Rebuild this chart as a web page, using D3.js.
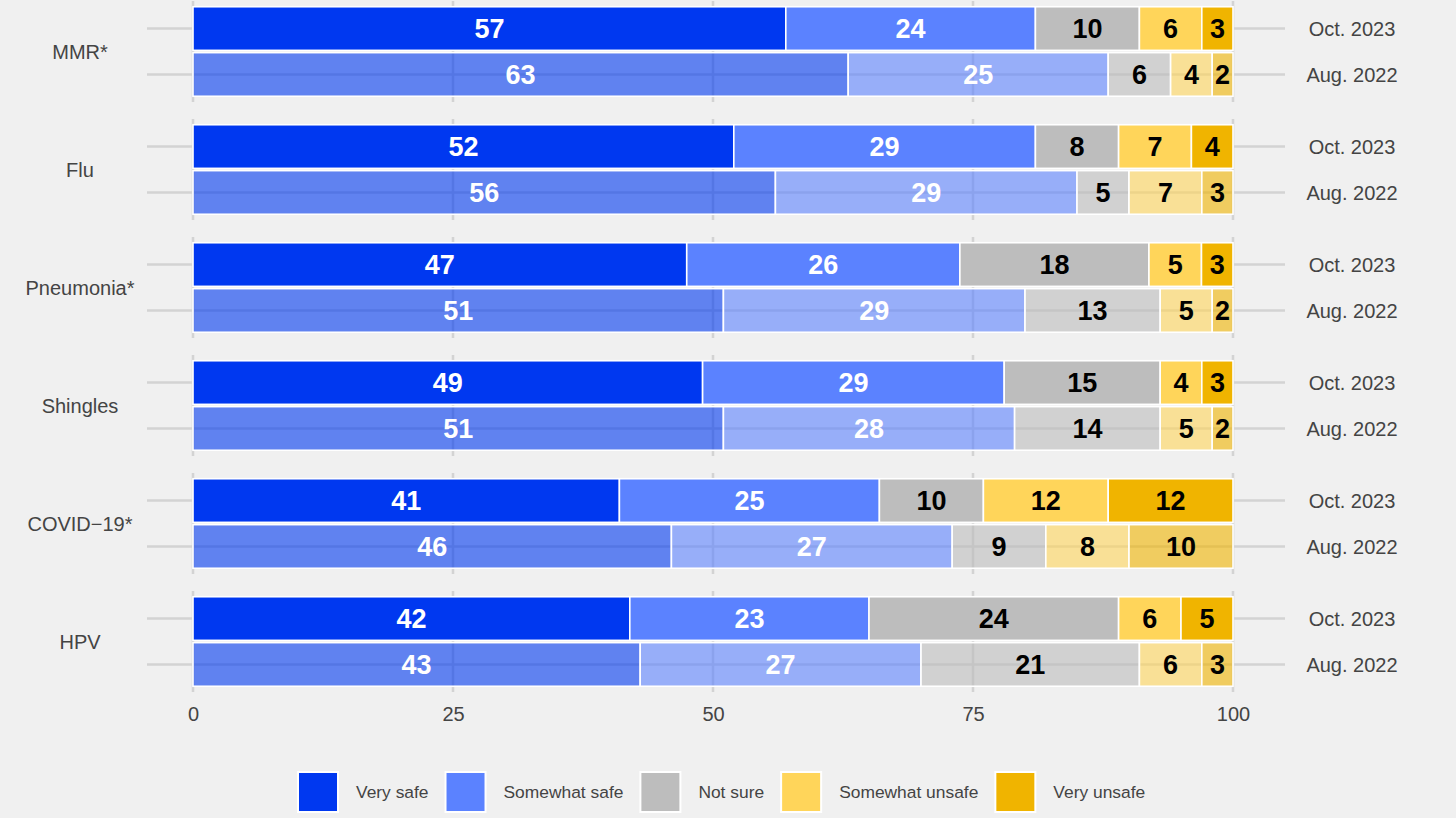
<!DOCTYPE html>
<html><head><meta charset="utf-8">
<script src="https://cdn.jsdelivr.net/npm/d3@7"></script>
<style>html,body{margin:0;padding:0;background:#f0f0f0;} svg{display:block;font-family:"Liberation Sans",Arial,Helvetica,sans-serif;}</style>
</head><body><svg id="c" width="1456" height="818"></svg>
<script>
const vaccines = ["MMR*","Flu","Pneumonia*","Shingles","COVID−19*","HPV"];
const waves = ["Oct. 2023","Aug. 2022"];
const responses = ["Very safe","Somewhat safe","Not sure","Somewhat unsafe","Very unsafe"];
const colors = ["#0038f0","#5b82ff","#bdbdbd","#ffd55a","#f0b400"];
const oct2023 = [[57,24,10,6,3],[52,29,8,7,4],[47,26,18,5,3],[49,29,15,4,3],[41,25,10,12,12],[42,23,24,6,5]];
const aug2022 = [[63,25,6,4,2],[56,29,5,7,3],[51,29,13,5,2],[51,28,14,5,2],[46,27,9,8,10],[43,27,21,6,3]];
const xTicks = [0,25,50,75,100];

const svg = d3.select("#c");
const x = d3.scaleLinear().domain([0,100]).range([193,1233]);
const panel = d3.scaleBand().domain(vaccines).range([1,692]).paddingInner(17/118).paddingOuter(0);
const yIn = d3.scaleLinear().domain([0.4,2.6]).range([0,panel.bandwidth()]);
const barH = yIn(1.475) - yIn(0.525);
const color = d3.scaleOrdinal().domain(responses).range(colors);
const gridColor = "#d3d3d3";
const textColor = "#444";

vaccines.forEach((v,vi)=>{
  const top = panel(v);
  const g = svg.append("g").attr("transform",`translate(0,${top})`);
  waves.forEach((w,wi)=>{
    g.append("line").attr("x1",147).attr("x2",1285)
      .attr("y1",yIn(wi+1)).attr("y2",yIn(wi+1))
      .attr("stroke",gridColor).attr("stroke-width",2.5);
  });
  xTicks.forEach(t=>{
    g.append("line").attr("x1",x(t)).attr("x2",x(t))
      .attr("y1",0).attr("y2",panel.bandwidth())
      .attr("stroke",gridColor).attr("stroke-width",2.5);
  });
  const rows = [oct2023[vi], aug2022[vi]];
  rows.forEach((vals,wi)=>{
    const total = d3.sum(vals);
    let cum = 0;
    const cy = yIn(wi+1);
    vals.forEach((val,ri)=>{
      const x0 = cum/total*100; cum += val; const x1 = cum/total*100;
      g.append("rect").attr("x",x(x0)).attr("width",x(x1)-x(x0))
        .attr("y",cy-barH/2).attr("height",barH)
        .attr("fill",color(responses[ri])).attr("fill-opacity", wi===0?1:0.6)
        .attr("stroke","#ffffff").attr("stroke-width",1.6);
      g.append("text").attr("x",(x(x0)+x(x1))/2).attr("y",cy).attr("dy","0.36em")
        .attr("text-anchor","middle").attr("font-weight","bold").attr("font-size",27)
        .attr("fill", ri<2 ? "#ffffff" : "#000000").text(val);
    });
    g.append("text").attr("x",1352).attr("y",cy).attr("dy","0.36em")
      .attr("text-anchor","middle").attr("font-size",20).attr("fill",textColor).text(waves[wi]);
  });
  g.append("text").attr("x",80).attr("y",panel.bandwidth()/2).attr("dy","0.36em")
    .attr("text-anchor","middle").attr("font-size",20).attr("fill",textColor).text(v);
});

const ax = svg.append("g").attr("transform","translate(0,692)")
  .call(d3.axisBottom(x).tickValues(xTicks).tickSize(0).tickPadding(15));
ax.select(".domain").remove();
ax.selectAll("text").attr("font-size",20).attr("fill",textColor)
  .attr("font-family","'Liberation Sans',Arial,Helvetica,sans-serif");

const lg = svg.append("g");
let lx = 298;
responses.forEach((r,i)=>{
  lg.append("rect").attr("x",lx).attr("y",772).attr("width",40).attr("height",40)
    .attr("fill",color(r)).attr("stroke","#ffffff").attr("stroke-width",2);
  const t = lg.append("text").attr("x",lx+58).attr("y",792).attr("dy","0.36em")
    .attr("font-size",17.4).attr("fill",textColor).text(r);
  lx = lx + 58 + t.node().getComputedTextLength() + 17;
});
</script></body></html>
